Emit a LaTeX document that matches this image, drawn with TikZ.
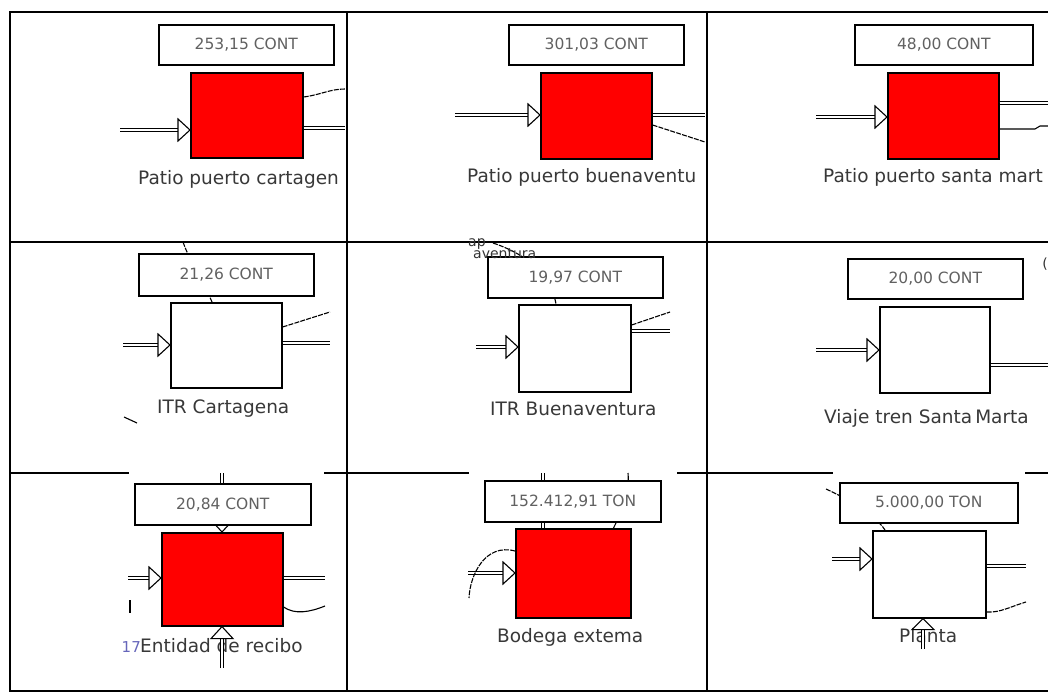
\documentclass[tikz,border=0pt]{standalone}
\usepackage{fontspec}
\newfontfamily\vf{DejaVu Sans}
\usetikzlibrary{calc,backgrounds}
\tikzset{
  gridln/.style={line width=2.2pt, line cap=rect},
  lblbox/.style={draw=black, line width=1.6pt, fill=white, inner sep=0pt, anchor=north west,
    font=\vf\fontsize{15.5}{18}\selectfont, text=black!62},
  blk/.style={draw=black, line width=1.6pt, inner sep=0pt, anchor=north west},
  redblk/.style={blk, fill=red},
  whiteblk/.style={blk, fill=white},
  nametxt/.style={font=\vf\fontsize{18.5}{22}\selectfont, text=black!78, anchor=base west, inner sep=0pt},
  fragtxt/.style={font=\vf\fontsize{14}{16}\selectfont, text=black!80, inner sep=0pt},
  dbl/.style={double, double distance=2pt, line width=1.1pt},
  thinln/.style={line width=1.1pt, dash pattern=on 5pt off 1.2pt},
  solidln/.style={line width=1.1pt},
}
\newcommand\opentri[2]{\draw[line width=1.1pt, fill=white, shift={(#1)}, rotate=#2] (0,0) -- (-12,11) -- (-12,-11) -- cycle;}
\begin{document}
\begin{tikzpicture}[x=1pt,y=-1pt]
\useasboundingbox (0,0) rectangle (1048,700);
% ---------- grid ----------
\draw[gridln] (10,12) -- (1048,12);
\draw[gridln] (10,242) -- (1048,242);
\draw[gridln] (10,473) -- (128,473);
\draw[gridln] (325,473) -- (468,473);
\draw[gridln] (678,473) -- (832,473);
\draw[gridln] (1026,473) -- (1048,473);
\draw[gridln] (10,691) -- (1048,691);
\draw[gridln] (10,12) -- (10,691);
\draw[gridln] (347,12) -- (347,691);
\draw[gridln] (707,12) -- (707,691);

% ---------- nodes ----------
% row 1
\node[lblbox, minimum width=175pt, minimum height=40pt] (b1) at (158,24) {253,15 CONT};
\node[redblk, minimum width=112pt, minimum height=85pt] (s1) at (190,72) {};
\node[nametxt] (n1) at (138,185) {Patio puerto cartagen};

\node[lblbox, minimum width=175pt, minimum height=40pt] (b2) at (508,24) {301,03 CONT};
\node[redblk, minimum width=111pt, minimum height=86pt] (s2) at (540,72) {};
\node[nametxt] (n2) at (467,183) {Patio puerto buenaventu};

\node[lblbox, minimum width=178pt, minimum height=40pt] (b3) at (854,24) {48,00 CONT};
\node[redblk, minimum width=111pt, minimum height=86pt] (s3) at (887,72) {};
\node[nametxt] (n3) at (823,183) {Patio puerto santa mart};

% row 2
\node[lblbox, minimum width=175pt, minimum height=42pt] (b4) at (138,253) {21,26 CONT};
\node[whiteblk, minimum width=111pt, minimum height=85pt] (s4) at (170,302) {};
\node[nametxt] (n4) at (157,413) {ITR Cartagena};

\node[lblbox, minimum width=175pt, minimum height=41pt] (b5) at (487,256) {19,97 CONT};
\node[whiteblk, minimum width=112pt, minimum height=87pt] (s5) at (518,304) {};
\node[nametxt] (n5) at (490,415) {ITR Buenaventura};

\node[lblbox, minimum width=175pt, minimum height=40pt] (b6) at (847,258) {20,00 CONT};
\node[whiteblk, minimum width=110pt, minimum height=86pt] (s6) at (879,306) {};
\node[nametxt] (n6) at (824,423) {Viaje tren Santa\,Marta};

% row 3
\node[lblbox, minimum width=176pt, minimum height=41pt] (b7) at (134,483) {20,84 CONT};
\node[redblk, minimum width=121pt, minimum height=93pt] (s7) at (161,532) {};
\node[nametxt] (n7) at (140,652) {Entidad de recibo};

\node[lblbox, minimum width=176pt, minimum height=41pt] (b8) at (484,480) {152.412,91 TON};
\node[redblk, minimum width=115pt, minimum height=89pt] (s8) at (515,528) {};
\node[nametxt] (n8) at (497,642) {Bodega extema};

\node[lblbox, minimum width=178pt, minimum height=40pt] (b9) at (839,482) {5.000,00 TON};
\node[whiteblk, minimum width=113pt, minimum height=87pt] (s9) at (872,530) {};
\node[nametxt] (n9) at (899,642) {Planta};

% ---------- fragments of text ----------
\node[fragtxt, anchor=base west] (f5a) at (468,247) {ap};
\node[fragtxt, anchor=base west] (f5b) at (473,259) {aventura};
\node[fragtxt, anchor=base] (f6) at (1045,269) {(};
\node[font=\vf\fontsize{15}{18}\selectfont, text=black!45!blue!60, anchor=base east, inner sep=0pt] (f7) at (141,652) {17};

% ---------- connectors behind boxes ----------
\begin{pgfonlayer}{background}
  \coordinate (c4a) at (183,242);
  \coordinate (c4b) at (212,302);
  \draw[thinln] (c4a) .. controls (190,262) and (205,285) .. (c4b);
  \coordinate (c5a) at (493,243);
  \coordinate (c5b) at (556,304);
  \draw[thinln] (c5a) .. controls (520,252) and (550,270) .. (c5b);
  \coordinate (c7a) at (222,473);
  \draw[dbl] (c7a) -- ($(c7a |- s7.north)+(0,-12)$);
  \coordinate (t7a) at (c7a |- s7.north);
  \opentri{t7a}{-90}
  \coordinate (c8a) at (543,473);
  \draw[dbl] (c8a) -- (c8a |- s8.north);
  \coordinate (c8b) at (628,473);
  \draw[solidln] (c8b) .. controls (630,495) and (620,515) .. (613,529);
  \coordinate (c9a) at (826,489);
  \draw[thinln] (c9a) .. controls (850,500) and (875,515) .. (885,530);
\end{pgfonlayer}

% ---------- input arrows ----------
\foreach \i/\x/\y in {1/120/130, 2/455/115, 3/816/117, 4/123/345, 5/476/347, 6/816/350, 7/128/578, 8/468/573, 9/832/559}{
  \coordinate (i\i) at (\x,\y);
  \coordinate (t\i) at (i\i -| s\i.west);
  \draw[dbl] (i\i) -- ($(t\i)+(-12,0)$);
  \opentri{t\i}{0}
}

% ---------- output double lines ----------
\foreach \i/\x/\y in {1/345/128, 2/705/115, 3/1048/103, 4/330/343, 5/670/331, 6/1048/365, 7/325/578, 9/1026/566}{
  \coordinate (o\i) at (\x,\y);
  \draw[dbl] (o\i -| s\i.east) -- (o\i);
}

% ---------- thin output lines ----------
\coordinate (e1) at (345,89);
\draw[thinln] (s1.east |- 0,97) .. controls (320,95) and (330,89) .. (e1);
\coordinate (e2) at (705,142);
\draw[thinln] (s2.east |- 0,125) -- (e2);
\coordinate (e3) at (1048,126);
\draw[solidln] (s3.east |- 0,129) -- (1035,129) -- (1040,126) -- (e3);
\coordinate (e4) at (330,312);
\draw[thinln] (s4.east |- 0,327) -- (e4);
\coordinate (e5) at (670,312);
\draw[thinln] (s5.east |- 0,325) -- (e5);
\coordinate (e7) at (325,606);
\draw[solidln] (s7.east |- 0,607) .. controls (295,615) and (310,612) .. (e7);
\coordinate (e8) at (469,598);
\draw[thinln] (s8.west |- 0,551) .. controls (485,543) and (470,575) .. (e8);
\coordinate (e9) at (1026,602);
\draw[thinln] (s9.east |- 0,612) .. controls (1000,613) and (1012,606) .. (e9);

% ---------- small stray marks ----------
\coordinate (m4a) at (124,417);
\coordinate (m4b) at (137,423);
\draw[solidln] (m4a) -- (m4b);
\coordinate (m7a) at (130,600);
\coordinate (m7b) at (130,613);
\draw[line width=1.6pt] (m7a) -- (m7b);

% ---------- bottom arrows (over text) ----------
\coordinate (u7) at (222,668);
\coordinate (tu7) at (u7 |- s7.south);
\draw[dbl] (u7) -- ($(tu7)+(0,12)$);
\opentri{tu7}{90}
\coordinate (u9) at (923,649);
\coordinate (tu9) at (u9 |- s9.south);
\draw[dbl] (u9) -- ($(tu9)+(0,11)$);
\draw[line width=1.1pt, fill=white, shift={(tu9)}, rotate=90] (0,0) -- (-11,11) -- (-11,-11) -- cycle;
\end{tikzpicture}
\end{document}
